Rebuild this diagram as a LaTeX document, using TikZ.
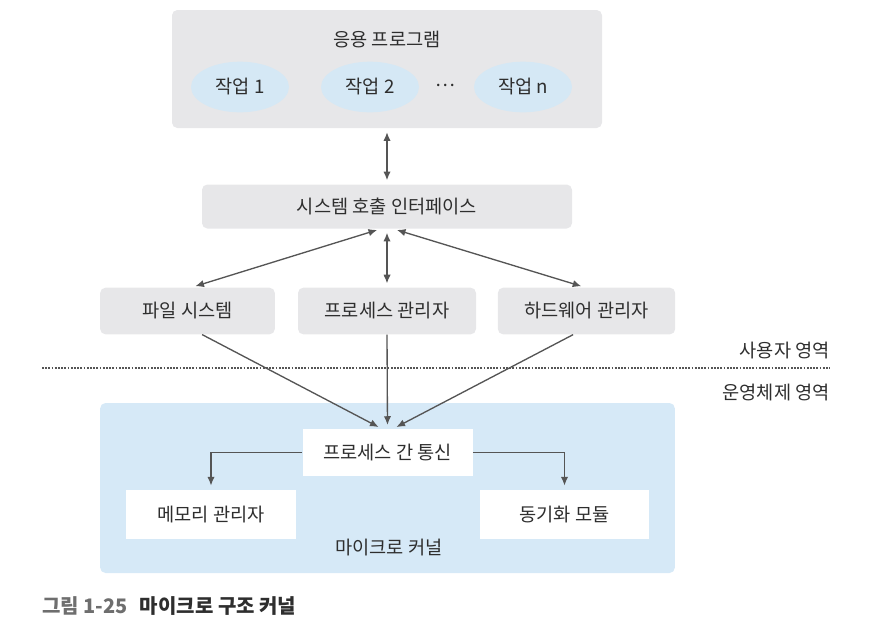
\documentclass[tikz,border=0pt]{standalone}
\usepackage{fontspec}
\setmainfont{Noto Sans CJK KR}
\usetikzlibrary{arrows.meta,shapes.geometric}
\definecolor{boxgray}{HTML}{E7E7E9}
\definecolor{jobblue}{HTML}{D5E8F5}
\definecolor{kernblue}{HTML}{D6E9F7}
\definecolor{ink}{HTML}{2E2E2E}
\definecolor{linegray}{HTML}{555555}
\definecolor{capgray}{HTML}{6E6E6E}
\begin{document}
\begin{tikzpicture}[x=0.75pt,y=-0.75pt,
    font=\fontsize{14}{16}\selectfont, text=ink,
    graybox/.style={fill=boxgray,rounded corners=4pt,inner sep=0pt},
    jobnode/.style={ellipse,fill=jobblue,inner sep=0pt,minimum width=73.5pt,minimum height=38pt},
    whitebox/.style={fill=white,inner sep=0pt},
    link/.style={draw=linegray,line width=1pt,{Latex[length=6.5pt,width=5.5pt]}-{Latex[length=6.5pt,width=5.5pt]}},
    oneway/.style={draw=linegray,line width=1pt,-{Latex[length=6.5pt,width=5.5pt]}}]
  \useasboundingbox (0,0) rectangle (870,626);
  \draw
    (387,69) node[graybox,minimum width=322.5pt,minimum height=88.5pt] (app){}
    (387,40) node (apptitle){응용 프로그램}
    (240,87) node[jobnode] (job1){작업 1}
    (370,87) node[jobnode] (job2){작업 2}
    (445,85) node (dots){⋯}
    (523,87) node[jobnode] (jobn){작업 n}
    (387,206.5) node[graybox,minimum width=277.5pt,minimum height=33pt] (sci){시스템 호출 인터페이스}
    (187.5,311) node[graybox,minimum width=131pt,minimum height=35pt] (fs){파일 시스템}
    (387,311) node[graybox,minimum width=133.5pt,minimum height=35pt] (pm){프로세스 관리자}
    (586.5,311) node[graybox,minimum width=133pt,minimum height=35pt] (hw){하드웨어 관리자}
    (830,350) node[anchor=east,inner sep=0pt] (userarea){사용자 영역}
    (830,392) node[anchor=east,inner sep=0pt] (osarea){운영체제 영역}
    (387.5,488) node[fill=kernblue,rounded corners=4pt,minimum width=431pt,minimum height=127.5pt] (kernel){}
    (389,548) node (kerneltitle){마이크로 커널}
    (387.5,452.5) node[whitebox,minimum width=127.5pt,minimum height=35pt] (ipc){프로세스 간 통신}
    (211,514.5) node[whitebox,minimum width=127.5pt,minimum height=37pt] (mem){메모리 관리자}
    (564.5,514.5) node[whitebox,minimum width=127pt,minimum height=37pt] (sync){동기화 모듈}
    (42,606) node[anchor=west,inner sep=0pt,font=\fontsize{15}{17}\selectfont\bfseries] (caption){\textcolor{capgray}{그림 1-25}\hspace{0.6em}\textcolor{ink}{마이크로 구조 커널}};
  \coordinate (sepL) at (42,368);
  \coordinate (sepR) at (830,368);
  \draw[linegray,densely dotted,line width=1.4pt] (sepL) -- (sepR);
  \begin{scope}[shorten <=3pt,shorten >=3pt]
    \draw[link] (app.south) to (sci.north);
    \draw[link] ([xshift=-4.5pt]sci.south) to ([xshift=3pt]fs.north);
    \draw[link] (sci.south) to (pm.north);
    \draw[link] ([xshift=4.5pt]sci.south) to ([xshift=-1pt]hw.north);
  \end{scope}
  \begin{scope}[shorten >=3pt]
    \draw[oneway] ([xshift=11pt]fs.south) to ([xshift=-4pt]ipc.north);
    \draw[oneway] (pm.south) to (ipc.north);
    \draw[oneway] ([xshift=-10pt]hw.south) to ([xshift=4pt]ipc.north);
    \draw[oneway] (ipc.west) -| (mem.north);
    \draw[oneway] (ipc.east) -| (sync.north);
  \end{scope}
\end{tikzpicture}
\end{document}
